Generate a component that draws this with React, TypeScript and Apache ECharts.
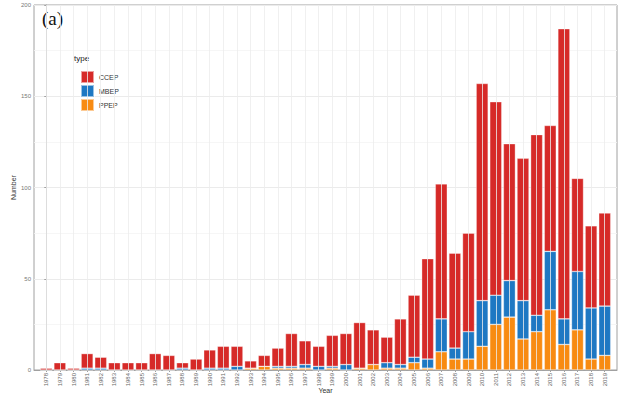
import React, { useEffect, useRef } from "react";
import * as echarts from "echarts";

const years = [
  "1978","1979","1980","1981","1982","1983","1984","1985","1986","1987",
  "1988","1989","1990","1991","1992","1993","1994","1995","1996","1997",
  "1998","1999","2000","2001","2002","2003","2004","2005","2006","2007",
  "2008","2009","2010","2011","2012","2013","2014","2015","2016","2017",
  "2018","2019",
];
const ccep = [
  1,4,1,8,6,4,4,4,9,8,
  3,6,10,12,11,4,6,10,18,13,
  11,17,17,25,19,14,25,34,55,74,
  52,54,119,106,75,78,99,69,159,51,
  45,51,
];
const mbep = [
  0,0,0,1,1,0,0,0,0,0,
  1,0,1,1,2,0,0,1,1,2,
  2,1,3,0,0,3,2,3,5,18,
  6,15,25,16,20,21,9,32,14,32,
  28,27,
];
const ppep = [
  0,0,0,0,0,0,0,0,0,0,
  0,0,0,0,0,1,2,1,1,1,
  0,1,0,1,3,1,1,4,1,10,
  6,6,13,25,29,17,21,33,14,22,
  6,8,
];
const yTicks = [0, 50, 100, 150, 200];

const COLORS = { CCEP: "#D62A28", MBEP: "#1E78C3", PPEP: "#F88B12" };
const FONT = "Liberation Sans";

export default function App() {
  const ref = useRef<HTMLDivElement>(null);
  useEffect(() => {
    if (!ref.current) return;
    const chart = echarts.init(ref.current, null, { renderer: "svg" });
    const idx = years.map((_, i) => i);
    const mk = (name: string, vals: number[]) => ({
      name,
      type: "bar",
      stack: "total",
      barWidth: 12,
      z: 3,
      encode: { x: 1, y: 0 },
      itemStyle: {
        color: (COLORS as any)[name],
        borderColor: "rgba(255,255,255,0.55)",
        borderWidth: 0.6,
      },
      data: vals.map((v, i) => [v, i]),
    });
    chart.setOption({
      animation: false,
      backgroundColor: "#ffffff",
      grid: {
        left: 34,
        right: 7,
        top: 5,
        bottom: 23,
        containLabel: false,
        outerBoundsMode: "none",
        show: true,
        borderColor: "#a0a0a0",
        borderWidth: 1,
        backgroundColor: "transparent",
      },
      legend: {
        orient: "vertical",
        left: 75,
        top: 65,
        itemWidth: 13,
        itemHeight: 12,
        itemGap: 0,
        icon: "rect",
        data: ["CCEP", "MBEP", "PPEP"],
        textStyle: {
          fontFamily: FONT,
          fontSize: 7,
          color: "#333",
          lineHeight: 12,
        },
        selectedMode: false,
      },
      graphic: [
        {
          type: "text",
          left: 42,
          top: 9,
          style: {
            text: "(a)",
            font: "19px 'Liberation Serif'",
            fill: "#111",
          },
        },
        {
          type: "text",
          left: 74,
          top: 54,
          style: {
            text: "type",
            font: "8px 'Liberation Sans'",
            fill: "#222",
          },
        },
      ],
      xAxis: {
        type: "value",
        min: -0.9,
        max: 41.9,
        name: "Year",
        nameLocation: "middle",
        nameGap: 17,
        nameMoveOverlap: false,
        nameTextStyle: { fontFamily: FONT, fontSize: 7, color: "#333" },
        axisLine: { show: true, lineStyle: { color: "#a0a0a0", width: 1 } },
        axisTick: {
          show: true,
          customValues: idx,
          length: 2,
          lineStyle: { color: "#a0a0a0" },
        },
        axisLabel: {
          customValues: idx,
          rotate: 90,
          fontSize: 6,
          fontFamily: FONT,
          color: "#666",
          margin: 3,
          formatter: (v: number) => years[Math.round(v)] ?? "",
        },
        splitLine: { show: false },
      },
      yAxis: {
        type: "value",
        min: 0,
        max: 200,
        interval: 50,
        name: "Number",
        nameLocation: "middle",
        nameGap: 17,
        nameMoveOverlap: false,
        nameTextStyle: { fontFamily: FONT, fontSize: 7, color: "#333" },
        axisLine: { show: true, lineStyle: { color: "#a0a0a0", width: 1 } },
        axisTick: { show: true, length: 2, lineStyle: { color: "#a0a0a0" } },
        axisLabel: {
          fontSize: 6,
          fontFamily: FONT,
          color: "#777",
          margin: 3,
          formatter: (v: number) => (yTicks.includes(v) ? String(v) : ""),
        },
        splitLine: { show: true, lineStyle: { color: "#ebebeb", width: 1 } },
        minorTick: { show: false, splitNumber: 2 },
        minorSplitLine: { show: true, lineStyle: { color: "#f4f4f4", width: 0.8 } },
      },
      series: [
        {
          name: "grid-v",
          type: "line",
          data: [],
          z: 1,
          silent: true,
          markLine: {
            silent: true,
            symbol: "none",
            label: { show: false },
            lineStyle: { color: "#ececec", width: 0.8, type: "solid" },
            data: idx.map((i) => ({ xAxis: i })),
          },
        },
        mk("PPEP", ppep),
        mk("MBEP", mbep),
        mk("CCEP", ccep),
      ],
    });
    return () => chart.dispose();
  }, []);
  return (
    <div
      ref={ref}
      style={{ position: "fixed", left: 0, top: 0, width: 624, height: 393 }}
    />
  );
}
